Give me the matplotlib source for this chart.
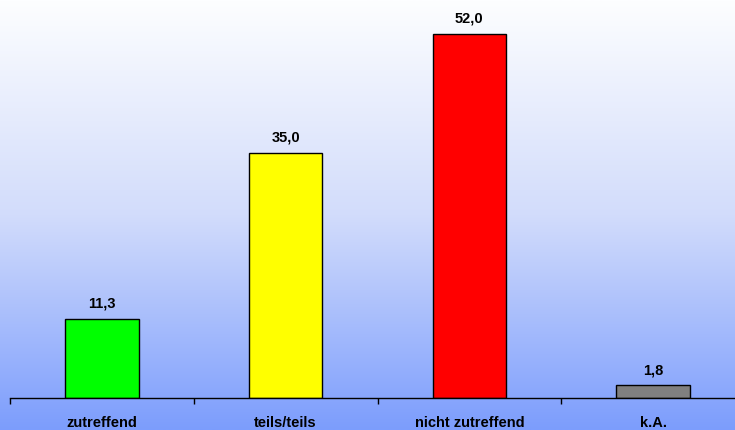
import numpy as np
import matplotlib.pyplot as plt
from matplotlib.colors import LinearSegmentedColormap

plt.rcParams['font.family'] = ['Liberation Sans', 'DejaVu Sans']

categories = ['zutreffend', 'teils/teils', 'nicht zutreffend', 'k.A.']
values = [11.3, 35.0, 52.0, 1.8]
bar_colors = ['#00ff00', '#ffff00', '#ff0000', '#808080']

fig = plt.figure(figsize=(7.35, 4.3), dpi=100)

# gradient background over the whole figure
bg = fig.add_axes([0, 0, 1, 1], zorder=0)
cmap = LinearSegmentedColormap.from_list('bg', ['#fdfeff', '#d2dcfb', '#7c9dfd'])
grad = np.linspace(0, 1, 256).reshape(-1, 1)
bg.imshow(grad, aspect='auto', cmap=cmap, extent=[0, 1, 0, 1], origin='upper')
bg.axis('off')

# plotting area runs slightly past the right edge, like the original
ax = fig.add_axes([10 / 735, 32 / 430, 735 / 735, 398 / 430], zorder=1)
ax.patch.set_alpha(0)

x = np.arange(len(categories))
bars = ax.bar(x, values, width=0.4, color=bar_colors, edgecolor='black', linewidth=1)

for bar, v in zip(bars, values):
    ax.annotate(f'{v:.1f}'.replace('.', ','),
                (bar.get_x() + bar.get_width() / 2, bar.get_height()),
                xytext=(0, 6), textcoords='offset points',
                ha='center', va='bottom', fontsize=10.5, fontweight='bold')

ax.set_xlim(-0.5, len(categories) - 0.5)
ax.set_ylim(0, 398 / 7.0)

ax.set_xticks(x)
ax.set_xticklabels(categories, fontsize=10.5, fontweight='bold')
ax.tick_params(axis='x', which='major', length=0, pad=13)
ax.set_xticks(np.arange(len(categories) + 1) - 0.5, minor=True)
ax.tick_params(axis='x', which='minor', length=4, direction='out', width=1)
ax.set_yticks([])

for s in ['top', 'right', 'left']:
    ax.spines[s].set_visible(False)
ax.spines['bottom'].set_linewidth(1)

fig.savefig('out.png', dpi=100)
